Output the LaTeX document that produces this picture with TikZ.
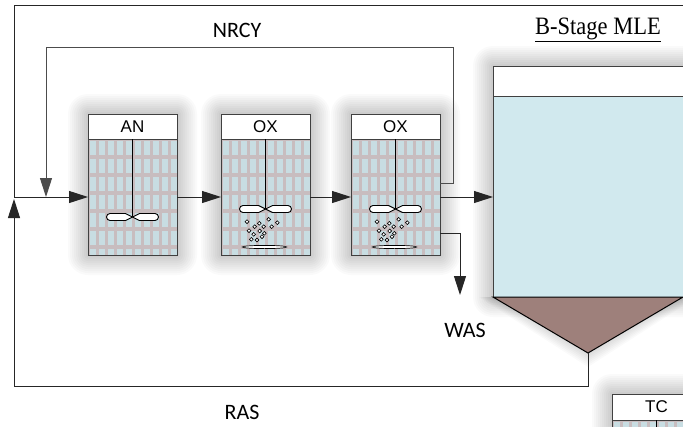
\documentclass[tikz,border=0pt]{standalone}
\usepackage{fontspec}
\setmainfont{Carlito}
\newfontfamily\tankfont{Liberation Sans}
\newfontfamily\titlefont{Liberation Serif}
\usetikzlibrary{arrows.meta,positioning}

\definecolor{mixpink}{RGB}{200,189,191}
\definecolor{mixblue}{RGB}{200,221,226}
\definecolor{clarblue}{RGB}{209,233,238}
\definecolor{sludge}{RGB}{158,128,123}

\tikzset{
  pipe/.style={draw=black!85, line width=1pt},
  flow/.style={pipe, -{Triangle[length=19pt,width=12pt]}},
  haze/.style={fill=black, opacity=0.02},
  basin/.style={draw=black!75, line width=1pt, fill=mixpink, inner sep=0pt, outer sep=0pt,
    minimum width=89pt, minimum height=116pt,
    path picture={
      \foreach \i in {0,...,9}
        \foreach \j in {0,...,6}
          \fill[mixblue] ([xshift=\i*9pt+1.5pt, yshift=-\j*18pt-2pt]path picture bounding box.north west) rectangle ++(6pt,-14pt);
    }},
  lid/.style={draw=black!75, line width=1pt, fill=white, inner sep=0pt, outer sep=0pt,
    minimum width=89pt, minimum height=25pt, font=\tankfont\fontsize{17}{17}\selectfont},
  lbl/.style={font=\fontsize{22}{22}\selectfont},
  pics/impeller/.style={code={
    \draw[line width=0.9pt, fill=white] (0,0) -- (7,-3.5) [rounded corners=3.5pt] -- (26,-3.5) -- (26,3.5) [sharp corners] -- (7,3.5) -- cycle;
    \draw[line width=0.9pt, fill=white] (0,0) -- (-7,-3.5) [rounded corners=3.5pt] -- (-26,-3.5) -- (-26,3.5) [sharp corners] -- (-7,3.5) -- cycle;
  }},
  pics/aerator/.style={code={
    \foreach \bx/\by in {-18.5/12.7,-10.8/17.7,-6.2/14.3,-1.8/17.7,3.2/10.3,6.2/17.7,11.8/13.7,
                         -16.5/21.7,-11.8/25.3,-5.8/22,-1.2/24.3,-14.2/30.3,-8.5/31,-3.5/27.7}
      \draw[line width=0.6pt, fill=white] (\bx,\by) circle (1.9pt);
    \draw[line width=0.7pt, fill=white] (-1,38) ellipse (22pt and 1.6pt);
  }}
}

\begin{document}
\begin{tikzpicture}[x=1pt,y=-1pt]
\clip (0,0) rectangle (683,426);
\fill[white] (0,0) rectangle (683,426);

% soft shadows behind the tanks
\foreach \l/\r/\t/\b in {88/177/114/255, 221/310/114/255, 351/440/114/255, 493/683/66/297, 612/701/394/520}
  \foreach \s in {2,4,...,20}
    \fill[haze, rounded corners=\s pt] (\l-\s,\t-\s) rectangle (\r+\s,\b+\s);
\foreach \s in {2,4,...,14}
  \fill[haze] (493-\s,297) -- (683+\s,297) -- (588,353+\s) -- cycle;

% reactors
\node[basin] (an) at (132.5,197) {};
\node[basin, right=44pt of an] (ox1) {};
\node[basin, right=41pt of ox1] (ox2) {};
\node[lid, above=0pt of an] (an-h) {AN};
\node[lid, above=0pt of ox1] (ox1-h) {OX};
\node[lid, above=0pt of ox2] (ox2-h) {OX};

% mixers and diffusers
\draw[line width=0.9pt] (an.north) -- ++(0,78) pic {impeller};
\draw[line width=0.9pt] (ox1.north) -- ++(0,70) pic {impeller} pic {aerator};
\draw[line width=0.9pt] (ox2.north) -- ++(0,70) pic {impeller} pic {aerator};

% clarifier
\coordinate (apex) at (588,353);
\node[draw=black!75, line width=1pt, fill=clarblue, minimum width=190pt, minimum height=201pt, inner sep=0pt, outer sep=0pt] (clar) at (588,196.5) {};
\node[lid, minimum width=190pt, minimum height=30pt, above=0pt of clar] (clar-h) {};
\draw[line width=1pt, fill=sludge] (clar.south west) -- (clar.south east) -- (apex) -- cycle;

% TC reactor
\node[lid, minimum height=26pt] (tc-h) at (656.5,407) {TC};
\node[basin, below=0pt of tc-h] (tc) {};
\draw[line width=0.9pt] (tc.north) -- ++(0,40);

% piping
\coordinate (inlet) at (700,5);
\coordinate (feedjoin) at (14,197);
\coordinate (nrcytop) at (453,47);
\coordinate (nrcyjoin) at (46,197);
\coordinate (wasend) at (460,295);
\coordinate (rasbottom) at (588,386);
\coordinate (rasjoin) at (14,199);
\draw[pipe] (inlet) -| (feedjoin);
\draw[flow] (feedjoin) -- (an.west);
\draw[flow] (an.east) -- (ox1.west);
\draw[flow] (ox1.east) -- (ox2.west);
\draw[flow] (ox2.east) -- (ox2.east -| clar.west);
\draw[flow, draw=black!70] ([yshift=14pt]ox2.east) -| (nrcytop) -| (nrcyjoin);
\draw[flow] ([yshift=-36pt]ox2.east) -| (wasend);
\draw[flow] (apex) -- (rasbottom) -| (rasjoin);

% labels
\node[lbl] (nrcy) at (237,30) {NRCY};
\node[lbl] (was) at (465,330) {WAS};
\node[lbl] (ras) at (242,412) {RAS};
\node[font=\titlefont\fontsize{25}{25}\selectfont] (title) at (598,30) {\scalebox{0.9}[1]{\underline{B-Stage MLE}}};
\end{tikzpicture}
\end{document}
